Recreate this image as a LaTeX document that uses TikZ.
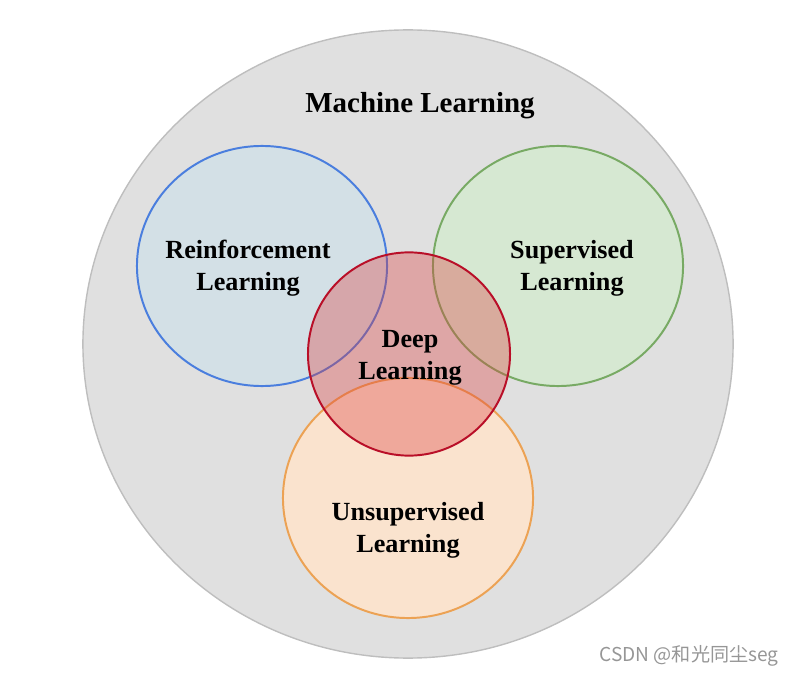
\documentclass[tikz,border=0pt]{standalone}
\usepackage{fontspec}
\setmainfont{Liberation Serif}
\newfontfamily\cjk{Noto Sans CJK SC}
\usepackage{tikz}
\usetikzlibrary{positioning}

\definecolor{mlfill}{RGB}{224,224,224}
\definecolor{mldraw}{RGB}{190,190,190}
\definecolor{rlfill}{RGB}{211,224,230}
\definecolor{rldraw}{RGB}{74,126,222}
\definecolor{slfill}{RGB}{214,232,210}
\definecolor{sldraw}{RGB}{120,170,100}
\definecolor{ulfill}{RGB}{250,227,206}
\definecolor{uldraw}{RGB}{236,162,84}
\definecolor{dlfill}{RGB}{220,60,60}
\definecolor{dldraw}{RGB}{185,15,40}
\definecolor{markgray}{RGB}{150,150,150}

\begin{document}
\begin{tikzpicture}[
  x=0.025cm, y=-0.025cm,
  area/.style={line width=1.4pt},
  label/.style={align=center, font=\fontsize{18.6}{22.7}\selectfont\bfseries},
]
  \useasboundingbox (0,0) rectangle (796,675);

  % outer field
  \draw[mldraw, fill=mlfill, line width=1pt] (408,344) ellipse [x radius=8.125cm, y radius=7.85cm];

  % sub-fields
  \draw[area, rldraw, fill=rlfill] (262,266) ellipse [x radius=3.125cm, y radius=3cm];
  \draw[area, sldraw, fill=slfill] (558,266) ellipse [x radius=3.125cm, y radius=3cm];
  \draw[area, uldraw, fill=ulfill] (408,498) ellipse [x radius=3.125cm, y radius=3cm];
  \draw[area, dldraw, fill=dlfill, fill opacity=0.35] (409,354) ellipse [x radius=2.525cm, y radius=2.54cm];

  \node[label, font=\fontsize{20.6}{24}\selectfont\bfseries] (ml) at (420,106) {Machine Learning};
  \node[label] (rl) at (248,268) {Reinforcement\\Learning};
  \node[label] (sl) at (572,268) {Supervised\\Learning};
  \node[label] (dl) at (410,358) {Deep\\Learning};
  \node[label] (ul) at (408,530) {Unsupervised\\Learning};

  \node[text=markgray, font=\cjk\fontsize{13.6}{15}\selectfont] (mark) at (689,656) {CSDN @和光同尘seg};
\end{tikzpicture}
\end{document}
